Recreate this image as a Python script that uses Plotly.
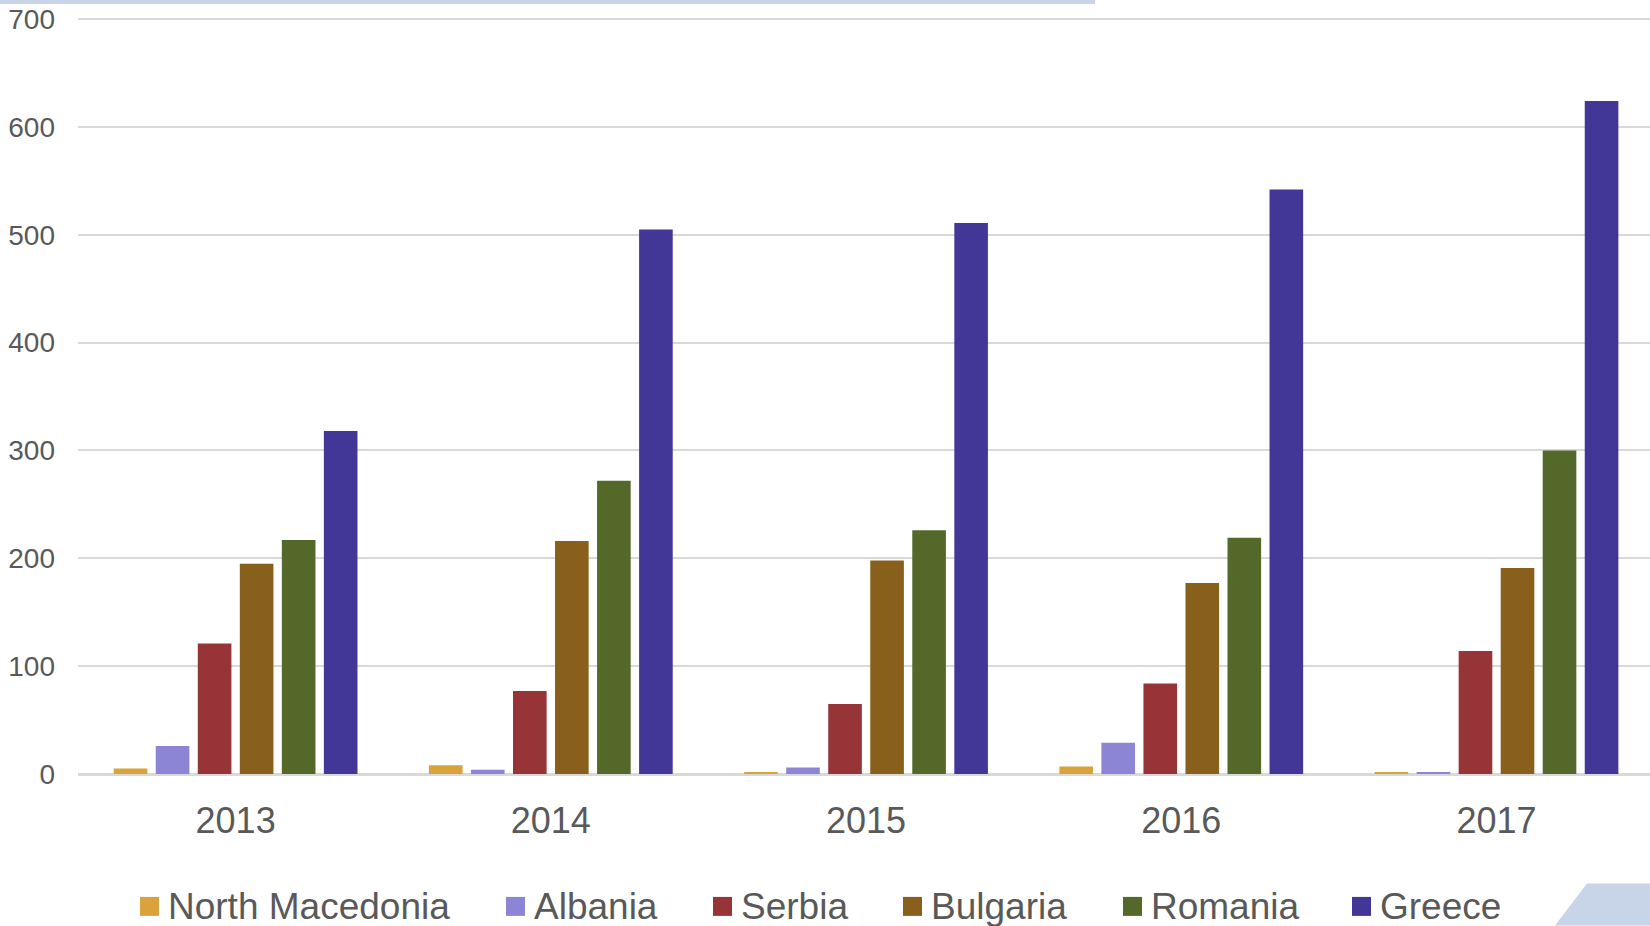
import plotly.graph_objects as go

years = ["2013", "2014", "2015", "2016", "2017"]
north_macedonia = [5, 8, 1, 7, 1.5]
albania = [26, 4, 6, 29, 1.5]
serbia = [121, 77, 65, 84, 114]
bulgaria = [195, 216, 198, 177, 191]
romania = [217, 272, 226, 219, 300]
greece = [318, 505, 511, 542, 624]
y_ticks = [0, 100, 200, 300, 400, 500, 600, 700]

series = [
    ("North Macedonia", north_macedonia, "#d9a23a"),
    ("Albania", albania, "#8c85d6"),
    ("Serbia", serbia, "#963437"),
    ("Bulgaria", bulgaria, "#88601c"),
    ("Romania", romania, "#54682a"),
    ("Greece", greece, "#423797"),
]

W, H = 1650, 926
Y_MAX = 701
L, R, B = 78, 1650, 774.5
T = B - (B - 19) * Y_MAX / 700
FONT = "Liberation Sans, Arial, sans-serif"
TXT = "#595959"


def px(x):
    return (x - L) / (R - L)


def py(y):
    return (B - y) / (B - T)


fig = go.Figure()
for name, vals, col in series:
    fig.add_trace(go.Bar(x=years, y=vals, name=name, marker_color=col,
                         marker_line_width=0, showlegend=False))

shapes = [
    dict(type="rect", xref="paper", yref="paper", x0=px(0), x1=px(1095),
         y0=py(4), y1=py(0), fillcolor="#c8d4e8", line_width=0, layer="below"),
    dict(type="path", xref="paper", yref="paper",
         path=f"M {px(1587)},{py(884)} L {px(1650)},{py(884)} L {px(1650)},{py(926)} L {px(1555)},{py(926)} Z",
         fillcolor="#c8d4e8", line_width=0, layer="below"),
]
annotations = []
legend_x = [140, 506, 713, 903, 1123, 1352]
sq = 19
ly = 907
for (name, vals, col), lx in zip(series, legend_x):
    shapes.append(dict(type="rect", xref="paper", yref="paper",
                       x0=px(lx), x1=px(lx + sq), y0=py(ly + sq / 2), y1=py(ly - sq / 2),
                       fillcolor=col, line_width=0))
    annotations.append(dict(xref="paper", yref="paper", x=px(lx + 26), y=py(ly),
                            xanchor="left", yanchor="middle", text=name, showarrow=False,
                            font=dict(family=FONT, size=37, color=TXT)))

fig.update_layout(
    width=W, height=H,
    margin=dict(l=L, r=W - R, t=T, b=H - B, pad=0),
    plot_bgcolor="white", paper_bgcolor="white",
    barmode="group", bargap=0.2, bargroupgap=0.2,
    shapes=shapes, annotations=annotations,
    font=dict(family=FONT, color=TXT),
)
fig.update_xaxes(type="category", range=[-0.5, 4.487], showgrid=False,
                 showline=False, ticks="", tickfont=dict(size=36, color=TXT),
                 ticklabelstandoff=22)
fig.update_yaxes(range=[0, Y_MAX], tickvals=y_ticks, showgrid=True, gridcolor="#d9d9d9",
                 gridwidth=1.5, zeroline=True, zerolinecolor="#d9d9d9", zerolinewidth=2.5,
                 showline=False, ticks="", tickfont=dict(size=28, color=TXT),
                 ticklabelstandoff=22)

fig.write_html("out.html", config={"displayModeBar": False},
               post_script="document.body.style.margin='0px';document.body.style.overflow='hidden';")
